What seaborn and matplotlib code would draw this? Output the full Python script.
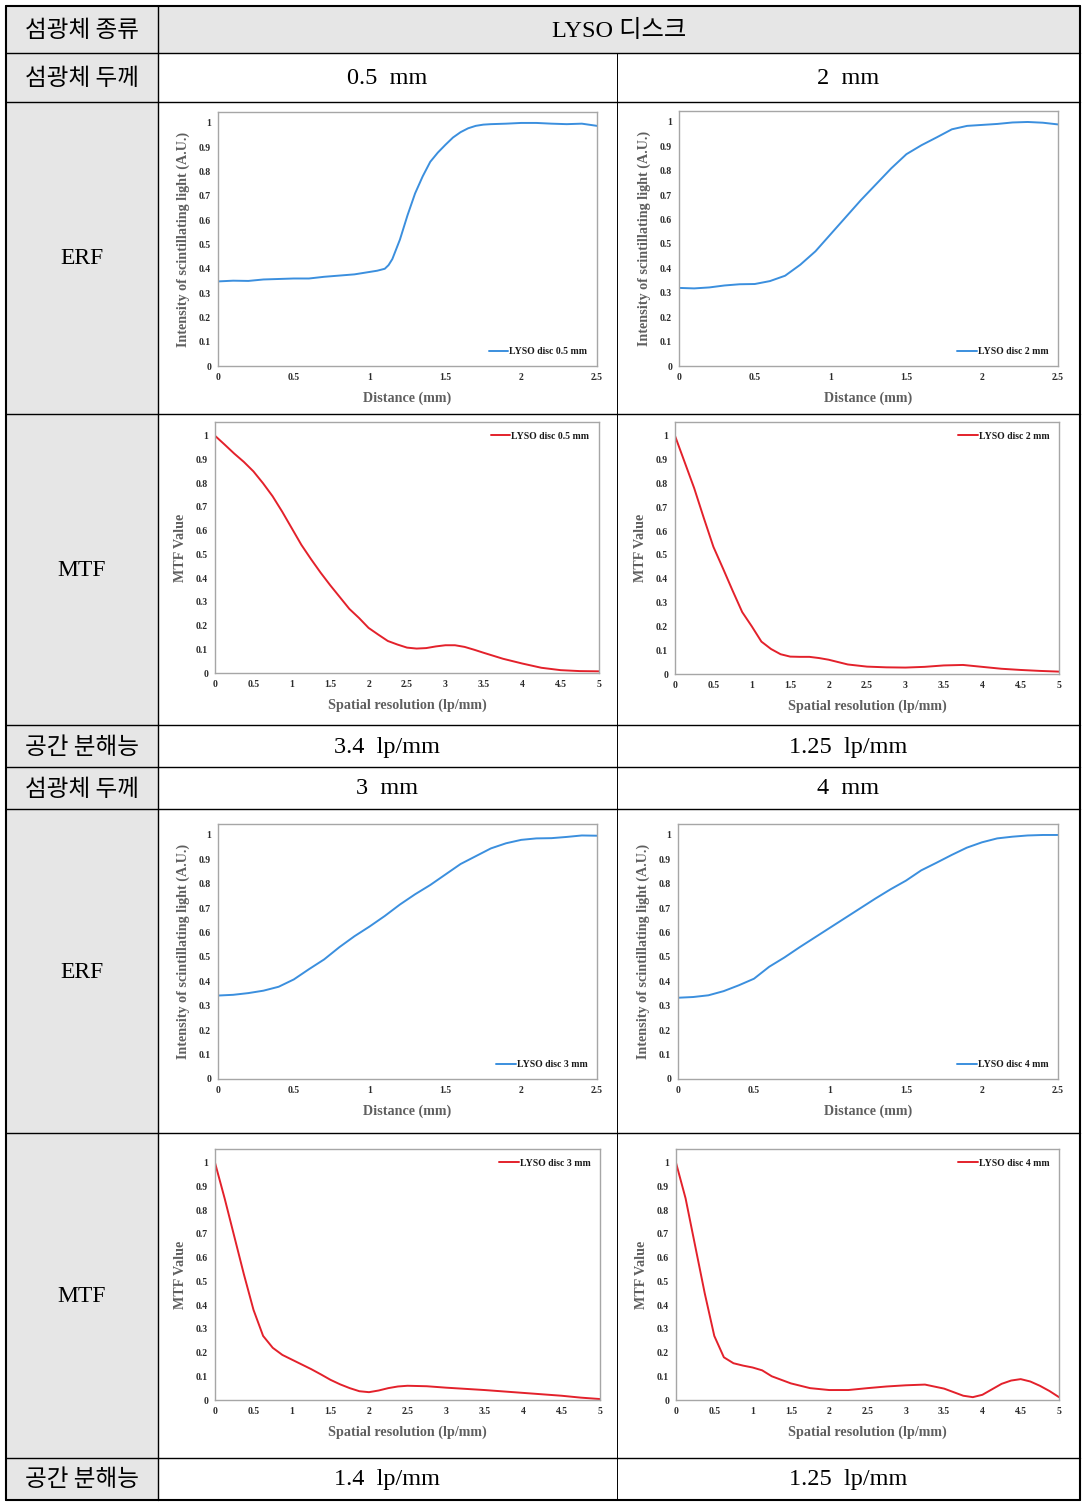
import seaborn as sns
import matplotlib.pyplot as plt
from matplotlib.lines import Line2D
from matplotlib.patches import Rectangle

# ---- data ----
erf_x = [0, 0.1, 0.2, 0.3, 0.4, 0.5, 0.6, 0.7, 0.8, 0.9, 1.0, 1.1, 1.2, 1.3,
         1.4, 1.5, 1.6, 1.7, 1.8, 1.9, 2.0, 2.1, 2.2, 2.3, 2.4, 2.5]

erf_05_x = [0, 0.1, 0.2, 0.3, 0.4, 0.5, 0.6, 0.7, 0.8, 0.9, 1.0, 1.05, 1.1,
            1.125, 1.15, 1.2, 1.25, 1.3, 1.35, 1.4, 1.45, 1.5, 1.55, 1.6, 1.65,
            1.7, 1.75, 1.8, 1.9, 2.0, 2.1, 2.2, 2.3, 2.4, 2.5]
erf_05 = [0.348, 0.351, 0.350, 0.356, 0.358, 0.360, 0.360, 0.367, 0.372, 0.377,
          0.387, 0.392, 0.400, 0.415, 0.440, 0.520, 0.620, 0.710, 0.780, 0.840,
          0.878, 0.910, 0.940, 0.962, 0.978, 0.988, 0.993, 0.995, 0.997, 1.0,
          1.0, 0.997, 0.995, 0.997, 0.988]
erf_2 = [0.320, 0.318, 0.322, 0.330, 0.335, 0.336, 0.348, 0.370, 0.415, 0.470,
         0.540, 0.610, 0.680, 0.745, 0.810, 0.868, 0.905, 0.937, 0.970, 0.984,
         0.988, 0.992, 0.998, 1.0, 0.997, 0.990]
erf_3 = [0.342, 0.345, 0.352, 0.362, 0.378, 0.408, 0.450, 0.490, 0.540, 0.585,
         0.625, 0.668, 0.715, 0.757, 0.795, 0.838, 0.881, 0.913, 0.945, 0.966,
         0.980, 0.986, 0.987, 0.992, 0.998, 0.997]
erf_4 = [0.333, 0.336, 0.343, 0.360, 0.384, 0.411, 0.460, 0.498, 0.540, 0.580,
         0.620, 0.660, 0.700, 0.740, 0.778, 0.813, 0.855, 0.886, 0.918, 0.948,
         0.970, 0.986, 0.993, 0.998, 1.0, 1.0]

mtf_05_x = [0, 0.125, 0.25, 0.375, 0.5, 0.625, 0.75, 0.875, 1.0, 1.125, 1.25,
            1.375, 1.5, 1.625, 1.75, 1.875, 2.0, 2.125, 2.25, 2.375, 2.5, 2.625,
            2.75, 2.875, 3.0, 3.125, 3.25, 3.375, 3.5, 3.75, 4.0, 4.25, 4.5,
            4.75, 5.0]
mtf_05 = [1.0, 0.963, 0.925, 0.89, 0.85, 0.80, 0.745, 0.68, 0.61, 0.54, 0.48,
          0.423, 0.37, 0.32, 0.27, 0.232, 0.19, 0.162, 0.135, 0.12, 0.107, 0.103,
          0.105, 0.112, 0.117, 0.117, 0.11, 0.098, 0.085, 0.06, 0.04, 0.022,
          0.012, 0.008, 0.007]

mtf_2_x = [0, 0.0625, 0.125, 0.25, 0.375, 0.5, 0.625, 0.75, 0.875, 1.0, 1.125,
           1.25, 1.375, 1.5, 1.625, 1.75, 1.875, 2.0, 2.125, 2.25, 2.5, 2.75,
           3.0, 3.25, 3.5, 3.75, 4.0, 4.25, 4.5, 4.75, 5.0]
mtf_2 = [1.0, 0.945, 0.89, 0.78, 0.655, 0.534, 0.443, 0.35, 0.26, 0.2, 0.136,
         0.105, 0.083, 0.073, 0.072, 0.072, 0.067, 0.06, 0.05, 0.04, 0.031,
         0.028, 0.027, 0.03, 0.036, 0.038, 0.03, 0.022, 0.017, 0.013, 0.01]

mtf_3_x = [0, 0.125, 0.25, 0.375, 0.5, 0.625, 0.75, 0.875, 1.0, 1.125, 1.25,
           1.375, 1.5, 1.625, 1.75, 1.875, 2.0, 2.125, 2.25, 2.375, 2.5, 2.75,
           3.0, 3.25, 3.5, 3.75, 4.0, 4.25, 4.5, 4.75, 5.0]
mtf_3 = [1.0, 0.85, 0.69, 0.53, 0.38, 0.27, 0.22, 0.19, 0.17, 0.15, 0.13,
         0.108, 0.085, 0.066, 0.05, 0.037, 0.033, 0.04, 0.05, 0.057, 0.06, 0.058,
         0.052, 0.047, 0.042, 0.036, 0.03, 0.024, 0.018, 0.01, 0.004]

mtf_4_x = [0, 0.125, 0.25, 0.375, 0.5, 0.625, 0.75, 0.875, 1.0, 1.125, 1.25,
           1.375, 1.5, 1.625, 1.75, 2.0, 2.25, 2.5, 2.75, 3.0, 3.25, 3.5, 3.625,
           3.75, 3.875, 4.0, 4.125, 4.25, 4.375, 4.5, 4.625, 4.75, 4.875, 5.0]
mtf_4 = [1.0, 0.85, 0.65, 0.45, 0.27, 0.18, 0.155, 0.145, 0.137, 0.125, 0.1,
         0.085, 0.07, 0.06, 0.05, 0.042, 0.042, 0.05, 0.057, 0.062, 0.065, 0.048,
         0.033, 0.018, 0.012, 0.022, 0.045, 0.068, 0.082, 0.088, 0.078, 0.06,
         0.038, 0.012]

erf_ticks = [0, 0.5, 1, 1.5, 2, 2.5]
erf_tick_labels = ['0', '0.5', '1', '1.5', '2', '2.5']
mtf_ticks = [0, 0.5, 1, 1.5, 2, 2.5, 3, 3.5, 4, 4.5, 5]
mtf_tick_labels = ['0', '0.5', '1', '1.5', '2', '2.5', '3', '3.5', '4', '4.5', '5']
y_ticks = [0, 0.1, 0.2, 0.3, 0.4, 0.5, 0.6, 0.7, 0.8, 0.9, 1]
y_tick_labels = ['0', '0.1', '0.2', '0.3', '0.4', '0.5', '0.6', '0.7', '0.8', '0.9', '1']

row_labels = ['섬광체 종류', '섬광체 두께', 'ERF', 'MTF', '공간 분해능',
              '섬광체 두께', 'ERF', 'MTF', '공간 분해능']
scint_type = 'LYSO 디스크'
thickness_top = ['0.5  mm', '2  mm']
thickness_bottom = ['3  mm', '4  mm']
resolution_top = ['3.4  lp/mm', '1.25  lp/mm']
resolution_bottom = ['1.4  lp/mm', '1.25  lp/mm']
legend_names = ['LYSO disc 0.5 mm', 'LYSO disc 2 mm', 'LYSO disc 3 mm', 'LYSO disc 4 mm']

# ---- style ----
sns.set_theme(style='white')
plt.rcParams['font.family'] = ['Liberation Serif', 'Noto Sans CJK KR']

W, H = 1086, 1504
fig = plt.figure(figsize=(W / 100, H / 100), dpi=100)

BLUE = '#3b8fde'
RED = '#e3212b'
GREY_BG = '#e6e6e6'
KR = ['Noto Sans CJK KR', 'DejaVu Sans']
SERIF = ['Liberation Serif', 'Noto Sans CJK KR']


def fx(x):
    return x / W


def fy(y):
    return 1 - y / H


# table grid (pixel positions)
x_left, x_lab, x_mid, x_right = 6, 158, 617, 1080
row_y = [6, 53, 102, 414, 725, 767, 809, 1133, 1458, 1500]

# grey backgrounds: label column and scintillator type cell
fig.add_artist(Rectangle((fx(x_left), fy(row_y[-1])), fx(x_lab - x_left),
                         (row_y[-1] - row_y[0]) / H, transform=fig.transFigure,
                         facecolor=GREY_BG, edgecolor='none', zorder=0))
fig.add_artist(Rectangle((fx(x_lab), fy(row_y[1])), fx(x_right - x_lab),
                         (row_y[1] - row_y[0]) / H, transform=fig.transFigure,
                         facecolor=GREY_BG, edgecolor='none', zorder=0))

for i, yy in enumerate(row_y):
    lw = 1.5 if i in (0, len(row_y) - 1) else 1.0
    fig.add_artist(Line2D([fx(x_left), fx(x_right)], [fy(yy), fy(yy)],
                          color='black', lw=lw, transform=fig.transFigure))
for xx, lw in [(x_left, 1.5), (x_lab, 1.0), (x_right, 1.5)]:
    fig.add_artist(Line2D([fx(xx), fx(xx)], [fy(row_y[0]), fy(row_y[-1])],
                          color='black', lw=lw, transform=fig.transFigure))
fig.add_artist(Line2D([fx(x_mid), fx(x_mid)], [fy(row_y[1]), fy(row_y[-1])],
                      color='black', lw=0.7, transform=fig.transFigure))

# row labels
for i, lab in enumerate(row_labels):
    yc = (row_y[i] + row_y[i + 1]) / 2
    if lab in ('ERF', 'MTF'):
        fam, fs = SERIF, 17
    else:
        fam, fs = KR, 17
    fig.text(fx((x_left + x_lab) / 2), fy(yc + 1), lab, ha='center', va='center',
             fontsize=fs, family=fam, color='black')

c1 = (x_lab + x_mid) / 2
c2 = (x_mid + x_right) / 2


def cell_text(xc, row, s):
    yc = (row_y[row] + row_y[row + 1]) / 2
    fig.text(fx(xc), fy(yc + 1), s, ha='center', va='center', fontsize=17.5,
             family=SERIF, color='black')


cell_text((x_lab + x_right) / 2, 0, scint_type)
cell_text(c1, 1, thickness_top[0])
cell_text(c2, 1, thickness_top[1])
cell_text(c1, 4, resolution_top[0])
cell_text(c2, 4, resolution_top[1])
cell_text(c1, 5, thickness_bottom[0])
cell_text(c2, 5, thickness_bottom[1])
cell_text(c1, 8, resolution_bottom[0])
cell_text(c2, 8, resolution_bottom[1])


def px_axes(l, t, r, b):
    return fig.add_axes([fx(l), fy(b), (r - l) / W, (b - t) / H])


def style_axes(ax, kind):
    for sp in ax.spines.values():
        sp.set_color('#a6a6a6')
        sp.set_linewidth(1.0)
    ax.set_facecolor('white')
    if kind == 'erf':
        ax.set_xlim(0, 2.5)
        ax.set_ylim(0, 1.045)
        ax.set_xticks(erf_ticks)
        ax.set_xticklabels(erf_tick_labels)
        ax.set_xlabel('Distance (mm)')
        ax.set_ylabel('Intensity of scintillating light (A.U.)')
    else:
        ax.set_xlim(0, 5)
        ax.set_ylim(0, 1.058)
        ax.set_xticks(mtf_ticks)
        ax.set_xticklabels(mtf_tick_labels)
        ax.set_xlabel('Spatial resolution (lp/mm)')
        ax.set_ylabel('MTF Value')
    ax.set_yticks(y_ticks)
    ax.set_yticklabels(y_tick_labels)
    ax.tick_params(length=0, labelsize=7, pad=5, colors='#2b2b2b')
    for t in ax.get_xticklabels() + ax.get_yticklabels():
        t.set_fontweight('bold')
    for lab in (ax.xaxis.label, ax.yaxis.label):
        lab.set_fontsize(10.2)
        lab.set_fontweight('bold')
        lab.set_color('#5f5f5f')
    ax.xaxis.labelpad = 7
    ax.yaxis.labelpad = 6
    loc = 'lower right' if kind == 'erf' else 'upper right'
    leg = ax.legend(loc=loc, frameon=False, handlelength=2.0, handletextpad=0.1,
                    borderaxespad=0.6, prop={'size': 7, 'weight': 'bold'})
    for t in leg.get_texts():
        t.set_color('#1a1a1a')


panels = [
    ((218, 112, 597, 366), 'erf', erf_05_x, erf_05, BLUE, legend_names[0]),
    ((679, 111, 1058, 366), 'erf', erf_x, erf_2, BLUE, legend_names[1]),
    ((215, 422, 599, 673), 'mtf', mtf_05_x, mtf_05, RED, legend_names[0]),
    ((675, 422, 1059, 674), 'mtf', mtf_2_x, mtf_2, RED, legend_names[1]),
    ((218, 824, 597, 1079), 'erf', erf_x, erf_3, BLUE, legend_names[2]),
    ((678, 824, 1058, 1079), 'erf', erf_x, erf_4, BLUE, legend_names[3]),
    ((215, 1149, 600, 1400), 'mtf', mtf_3_x, mtf_3, RED, legend_names[2]),
    ((676, 1149, 1059, 1400), 'mtf', mtf_4_x, mtf_4, RED, legend_names[3]),
]

for box, kind, xs, ys, col, name in panels:
    ax = px_axes(*box)
    sns.lineplot(x=xs, y=ys, ax=ax, color=col, linewidth=1.4, label=name)
    ax.lines[0].set_solid_joinstyle('round')
    style_axes(ax, kind)

fig.savefig('out.png', dpi=100, facecolor='white')
